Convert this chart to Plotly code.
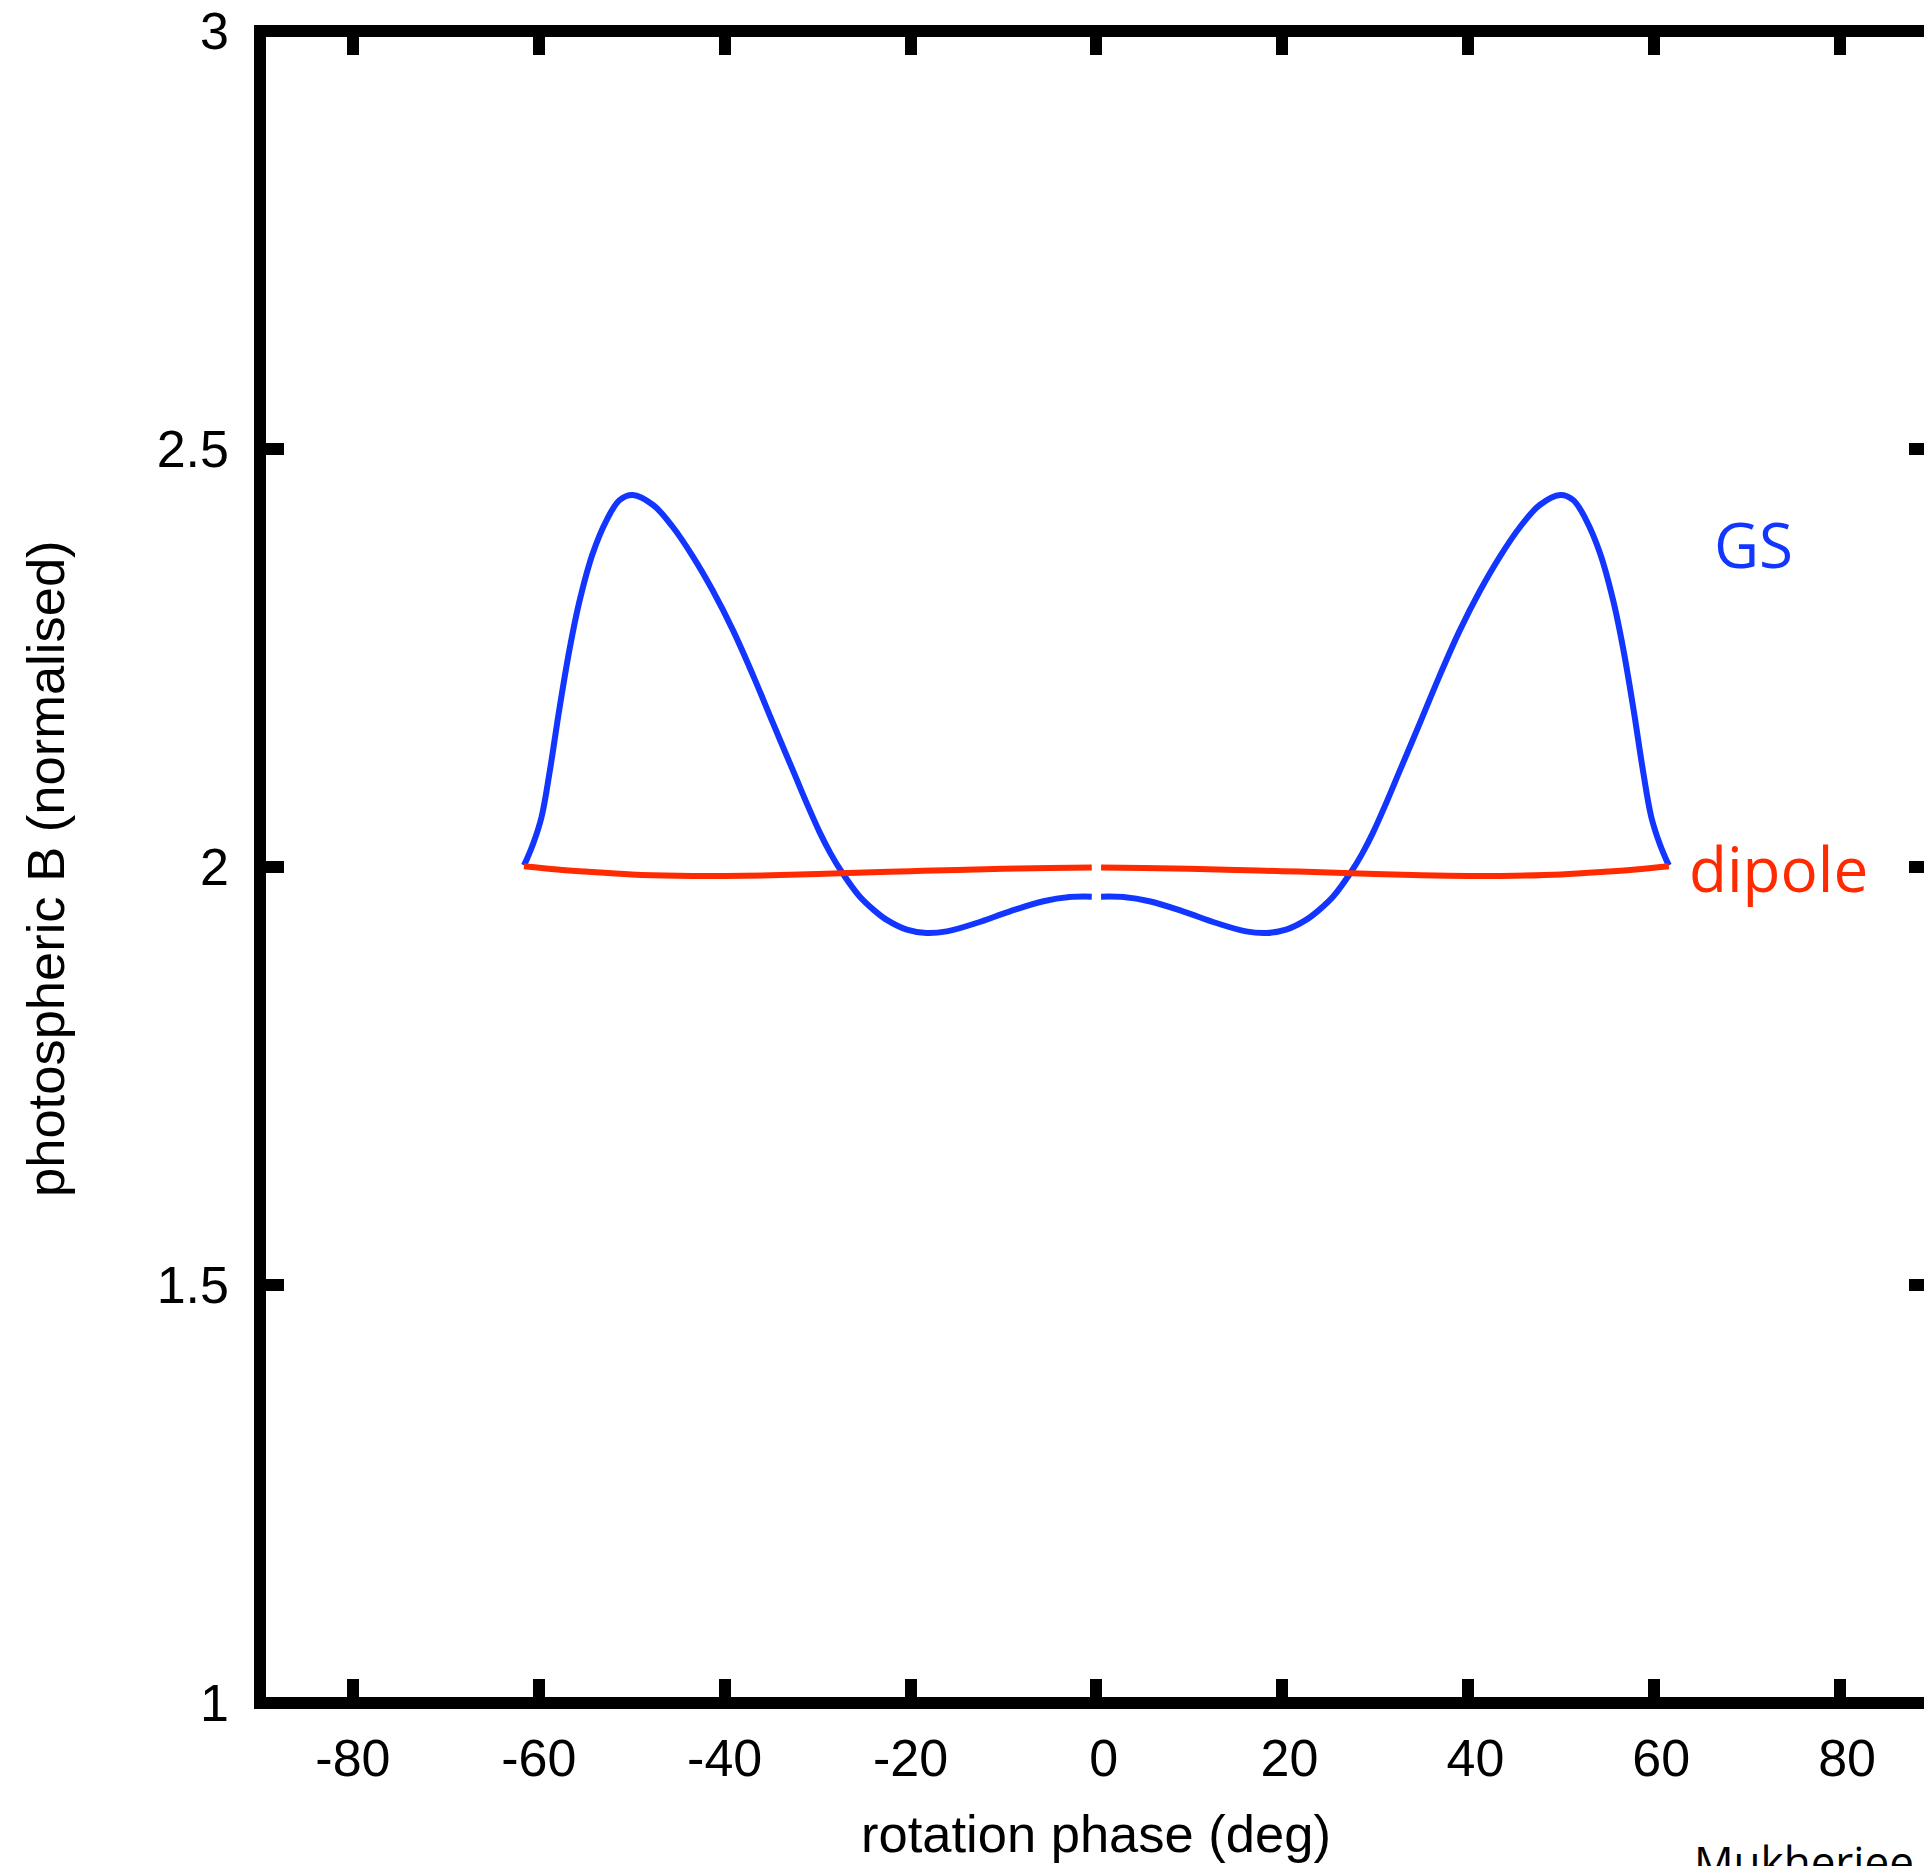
import plotly.graph_objects as go

# ---- data ----
gs_x = [-61.6, -61.3, -60.6, -59.7, -58.8, -57.8, -56.7, -55.6, -54.2, -52.7, -51.3, -49.9,
        -47.7, -45.6, -43.4, -41.3, -39.1, -36.9, -34.8, -32.6, -31.2, -29.8, -28.6, -27.4,
        -25.5, -24.0, -22.6, -20.4, -18.3, -16.1, -12.9, -9.3, -5.7, -2.9, -0.5,
        None,
        0.5, 2.9, 5.7, 9.3, 12.9, 16.1, 18.3, 20.4, 22.6, 24.0, 25.5, 27.4, 28.6, 29.8,
        31.2, 32.6, 34.8, 36.9, 39.1, 41.3, 43.4, 45.6, 47.7, 49.9, 51.3, 52.7, 54.2,
        55.6, 56.7, 57.8, 58.8, 59.7, 60.6, 61.3, 61.6]
gs_y = [2.002, 2.009, 2.028, 2.060, 2.116, 2.188, 2.260, 2.319, 2.375, 2.415, 2.439, 2.445,
        2.433, 2.407, 2.371, 2.331, 2.283, 2.228, 2.172, 2.114, 2.077, 2.042, 2.016, 1.994,
        1.965, 1.949, 1.937, 1.925, 1.921, 1.923, 1.933, 1.947, 1.959, 1.964, 1.9645,
        None,
        1.9645, 1.964, 1.959, 1.947, 1.933, 1.923, 1.921, 1.925, 1.937, 1.949, 1.965, 1.994,
        2.016, 2.042, 2.077, 2.114, 2.172, 2.228, 2.283, 2.331, 2.371, 2.407, 2.433, 2.445,
        2.439, 2.415, 2.375, 2.319, 2.260, 2.188, 2.116, 2.060, 2.028, 2.009, 2.002]

dip_x = [-61.6, -58.0, -55.0, -50.0, -45.0, -40.0, -35.0, -30.0, -25.0, -20.0, -15.0, -10.0,
         -5.0, -0.5, None, 0.5, 5.0, 10.0, 15.0, 20.0, 25.0, 30.0, 35.0, 40.0, 45.0, 50.0,
         55.0, 58.0, 61.6]
dip_y = [2.001, 1.997, 1.9945, 1.991, 1.9895, 1.9893, 1.990, 1.9915, 1.9935, 1.995, 1.9965,
         1.9978, 1.9988, 1.9995, None, 1.9995, 1.9988, 1.9978, 1.9965, 1.995, 1.9935, 1.9915,
         1.990, 1.9893, 1.9895, 1.991, 1.9945, 1.997, 2.001]

x_tickvals = [-80, -60, -40, -20, 0, 20, 40, 60, 80]
x_ticktext = ["-80", "-60", "-40", "-20", "\u00a00", "\u00a020", "\u00a040", "\u00a060", "\u00a080"]
y_tickvals = [1, 1.5, 2, 2.5, 3]
y_ticktext = ["1", "1.5", "2", "2.5", "3"]

BLUE = "#1236FF"
RED = "#FF2A00"
TICKFONT = dict(family="Liberation Sans, Arial, Helvetica, sans-serif", size=52, color="black")
TITLEFONT = dict(family="Liberation Sans, Arial, Helvetica, sans-serif", size=52.5, color="black")
LABFONT = "Open Sans, Lucida Grande, sans-serif"

fig = go.Figure()
fig.add_trace(go.Scatter(x=gs_x, y=gs_y, mode="lines", connectgaps=False,
                         line=dict(color=BLUE, width=6, shape="spline", smoothing=1.0),
                         showlegend=False, hoverinfo="skip"))
fig.add_trace(go.Scatter(x=dip_x, y=dip_y, mode="lines", connectgaps=False,
                         line=dict(color=RED, width=6, shape="spline", smoothing=1.0),
                         showlegend=False, hoverinfo="skip"))
# invisible trace to carry the right-hand tick axis
fig.add_trace(go.Scatter(x=[0], y=[2], yaxis="y2", mode="markers", marker=dict(opacity=0),
                         showlegend=False, hoverinfo="skip"))

fig.update_layout(
    width=1924, height=1866,
    margin=dict(l=260, r=0, t=31, b=163, pad=0),
    paper_bgcolor="white", plot_bgcolor="white",
    xaxis=dict(range=[-90, 89.05], tickvals=x_tickvals, ticktext=x_ticktext,
               ticks="inside", ticklen=24, tickwidth=12, tickcolor="black", mirror="ticks",
               showline=False, showgrid=False, zeroline=False, tickfont=TICKFONT,
               ticklabelstandoff=20),
    yaxis=dict(range=[1, 3], tickvals=y_tickvals, ticktext=y_ticktext,
               ticks="inside", ticklen=24, tickwidth=12, tickcolor="black",
               showline=False, showgrid=False, zeroline=False, tickfont=TICKFONT,
               ticklabelstandoff=30),
    yaxis2=dict(range=[1, 3], overlaying="y", side="right", tickvals=[1.5, 2, 2.5],
                ticks="inside", ticklen=15, tickwidth=12, tickcolor="black",
                showticklabels=False, showline=False, showgrid=False, zeroline=False),
    shapes=[dict(type="rect", xref="paper", yref="paper", x0=0, x1=1.0054, y0=0, y1=1,
                 line=dict(color="black", width=12), layer="above")],
    annotations=[
        dict(text="rotation phase (deg)", x=(1096 - 260) / 1664, y=(1703 - 1833) / 1672,
             xref="paper", yref="paper", showarrow=False, xanchor="center", yanchor="middle",
             font=TITLEFONT),
        dict(text="photospheric B (normalised)", x=(45 - 260) / 1664, y=(1703 - 869) / 1672,
             xref="paper", yref="paper", showarrow=False, textangle=-90,
             xanchor="center", yanchor="middle", font=TITLEFONT),
        dict(text="GS", x=70.7, y=2.386, xref="x", yref="y", showarrow=False,
             font=dict(family=LABFONT, size=62, color=BLUE)),
        dict(text="dipole", x=73.4, y=1.9986, xref="x", yref="y", showarrow=False,
             font=dict(family=LABFONT, size=62, color=RED)),
        dict(text="Mukherjee", x=(1692 - 260) / 1664, y=(1703 - 1861) / 1672,
             xref="paper", yref="paper", showarrow=False,
             xanchor="left", yanchor="middle",
             font=dict(family=LABFONT, size=44, color="black")),
    ],
)

fig.write_html("out.html", config={"displayModeBar": False},
               post_script="document.body.style.margin='0';document.body.style.overflow='hidden';")
